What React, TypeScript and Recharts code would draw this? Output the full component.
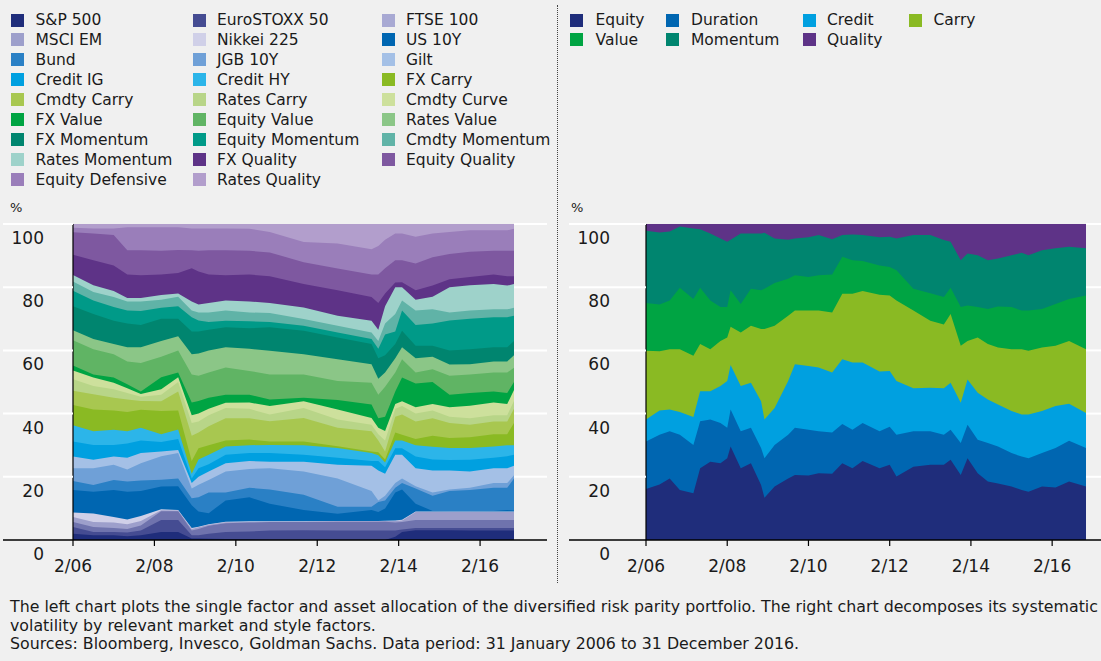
import React from 'react';
import { AreaChart, Area, XAxis, YAxis, Legend } from 'recharts';

// x = months since Feb 2006 (0) ... Dec 2016 (130)
// every series holds the TOP edge (cumulative %) of its band
const LEFT_MONTHS = [0, 6, 12, 16, 20, 26, 31, 35, 37, 40, 45, 52, 58, 68, 78, 88, 90, 92, 95, 97, 101, 106, 111, 117, 124, 128, 130];

const SP500 = [2, 1.5, 1.5, 1.2, 1.5, 2.5, 2.5, 0.5, 0.5, 0.4, 0.3, 0.2, 0, 0, 0, 0, 0, 0, 1, 2.5, 3.1, 3.1, 3.1, 3, 3, 3, 3];
const EUROSTOXX = [4.1, 2.5, 2.5, 2.4, 3, 6.3, 6.3, 1.5, 1.5, 2, 2.5, 2.7, 3, 3.1, 3, 3, 3, 3, 3, 3.3, 3.8, 3.8, 3.8, 3.8, 3.8, 3.8, 3.8];
const FTSE = [5.7, 4.1, 3.8, 3.5, 4.6, 9.1, 9.1, 3, 3.5, 4.5, 5.3, 5.5, 5.7, 5.7, 5.8, 5.8, 5.8, 5.8, 5.5, 5.7, 6.3, 6.3, 6.3, 6.3, 6.3, 6.3, 6.3];
const MSCI_EM = [7.3, 5.7, 5.5, 5, 6, 9.4, 9.3, 3.5, 4, 4.8, 5.6, 5.7, 5.8, 5.8, 5.9, 5.9, 5.9, 6, 6, 6.2, 8.9, 8.9, 8.9, 8.9, 8.9, 8.9, 8.9];
const NIKKEI = [8.7, 8.4, 7.3, 6.5, 7.6, 9.7, 9.5, 3.8, 4.2, 5, 5.8, 5.9, 5.9, 5.9, 6, 6, 6, 6.1, 6.2, 6.4, 9, 9, 9, 9, 9, 9, 9];
const US10Y = [15.8, 15.3, 15.8, 15.3, 15.5, 16.9, 17, 11, 9, 8.5, 12.5, 13.5, 11.5, 9.5, 8.3, 9.5, 8.9, 10, 15, 16, 11.5, 9.2, 9.1, 9.1, 9.2, 9.5, 9.3];
const BUND = [18.7, 17.4, 19, 18.5, 18.8, 19.1, 19.5, 13.2, 13.5, 15, 15, 16.5, 16, 14.3, 10.5, 10.5, 12, 12.5, 16.5, 18, 16.3, 14, 15.5, 15.8, 16.5, 16.5, 19.5];
const JGB = [22.7, 22.7, 23.8, 22.3, 24.3, 26.5, 27.5, 16.3, 17.5, 19, 21.7, 22.5, 22.7, 21.7, 19.5, 15.5, 12.5, 14, 18, 19.5, 17, 15, 16, 16.5, 18, 18, 20.5];
const GILT = [26.4, 25.4, 26.4, 26, 27.5, 28, 28.5, 18, 20, 21.7, 24.3, 25, 24.8, 24.8, 23.8, 23.5, 22, 21, 27, 27, 22.7, 22, 22, 21.7, 22.7, 22.7, 23.5];
const CREDIT_IG = [31.2, 30.1, 30.1, 30.5, 31.5, 31, 32, 19.5, 22.7, 24, 27, 27.5, 27.5, 27, 26, 25, 25, 23, 29, 29, 26.4, 25.5, 25.3, 25.4, 26, 26.5, 27];
const CREDIT_HY = [36.3, 34.4, 34.9, 34.4, 35.5, 33.5, 35, 21, 25.5, 27, 29.6, 30, 30.1, 30, 29.1, 27.5, 26.8, 24.5, 31.5, 31.5, 30, 29.5, 29.1, 29.1, 29.6, 30, 30];
const FX_CARRY = [42.7, 41.3, 41, 40.5, 41.2, 40.8, 41, 25, 29, 30, 31.5, 31.8, 31.2, 31.2, 29.7, 28, 27.8, 25.5, 34, 33.3, 32, 33, 32.3, 32.5, 33.5, 33.5, 37];
const CMDTY_CARRY = [47.2, 46.1, 45, 44.5, 44, 43.9, 47, 33, 34, 36, 38.5, 38.5, 37.6, 38.6, 35.5, 34.4, 31.5, 28, 39, 39.7, 37.5, 38.5, 37, 36.5, 37.5, 37.5, 41.5];
const RATES_CARRY = [50.9, 48.7, 47.7, 46.5, 45.3, 46, 50, 37, 37.5, 39.5, 41.8, 41.5, 39.7, 41.8, 38.1, 36.5, 33.5, 31.5, 41.5, 42.4, 40, 41, 39, 38.5, 39.5, 39.5, 44];
const CMDTY_CURVE = [53.6, 51.4, 49.8, 48, 46.2, 47.7, 51.5, 39.5, 40, 41.5, 43.4, 43.5, 42.4, 43.9, 41.3, 38.6, 35.5, 34.5, 43, 43.9, 42, 43, 42, 42.5, 43.5, 43, 47.5];
const FX_VALUE = [55.2, 52.4, 51.4, 49.3, 47, 51.5, 53, 43.5, 44, 45, 46, 46, 44.5, 45, 44.3, 42.9, 38.5, 39, 47, 51.4, 49.5, 50, 46, 46.5, 47, 46.5, 50];
const EQUITY_VALUE = [63.2, 60.4, 58.8, 56.5, 56, 58, 60, 52.4, 52, 53, 54.6, 53.5, 52.4, 52.4, 50.3, 49.8, 46, 48.5, 53, 57.2, 53, 54, 52, 52.4, 53, 53, 54.5];
const RATES_VALUE = [66.4, 63.6, 62, 61, 61, 63, 64.5, 58.8, 59, 60, 61, 60.5, 59.9, 58.8, 57.2, 55.6, 51, 53, 57.5, 61, 57.5, 58, 55.5, 55.6, 56.5, 56.5, 58.5];
const FX_MOMENTUM = [74, 71.5, 69.4, 68.5, 68, 70, 70, 66, 66, 66.5, 67.3, 67, 67.3, 66.2, 64.1, 62, 57.5, 58.5, 62, 66.2, 61.5, 61.5, 60, 60.4, 61, 61, 63];
const EQUITY_MOMENTUM = [78.9, 75.8, 73.7, 72.6, 72.5, 73.5, 74, 70.5, 69.5, 69, 69.4, 69.2, 69, 67.8, 65.7, 63.6, 60.5, 65, 66, 72.6, 68, 68.5, 69.5, 70, 70.5, 70.5, 71];
const CMDTY_MOMENTUM = [81.8, 78.5, 76.9, 75.5, 75.5, 76, 77, 72.6, 72, 72, 72.6, 72, 71.8, 69.9, 67.8, 65.7, 63, 68.5, 71.5, 75.8, 72.6, 73, 72, 72.6, 73, 73, 73.5];
const RATES_MOMENTUM = [83.9, 80.6, 78.8, 76.6, 76.6, 77.5, 78, 75.5, 74.5, 75, 75.8, 75.5, 75, 73.6, 71, 69.4, 66.5, 74, 80, 80, 76, 77, 80, 80.6, 81, 80.5, 81];
const FX_QUALITY = [90.3, 88.5, 86.9, 84, 83.8, 84, 84.5, 86, 85, 84, 83.8, 84, 83.5, 81, 79, 76.9, 75, 78, 81.5, 81.6, 79, 80.5, 82.5, 83.2, 84, 83.5, 83.5];
const EQUITY_QUALITY = [97.4, 97, 96.5, 91.7, 91.7, 91.5, 91.8, 91.7, 91.5, 91.7, 91.7, 91.5, 91, 87.9, 85.9, 84, 84, 86, 88.5, 88.5, 87.5, 89.5, 90.5, 91.2, 91.5, 91.5, 91.5];
const EQUITY_DEFENSIVE = [98.8, 98.6, 98.6, 99, 99, 99, 99, 98.6, 98.6, 98.6, 98.6, 98.5, 97.5, 94.3, 93.8, 92, 93, 95, 97, 97, 96, 97, 97.5, 98, 98, 98, 98.5];
const RATES_QUALITY = [100, 100, 100, 100, 100, 100, 100, 100, 100, 100, 100, 100, 100, 100, 100, 100, 100, 100, 100, 100, 100, 100, 100, 100, 100, 100, 100];

const RIGHT_MONTHS = [0, 4, 7, 10, 14, 16, 19, 22, 24, 25, 28, 31, 34, 35, 38, 42, 44, 48, 51, 55, 58, 61, 64, 69, 72, 74, 79, 84, 88, 90, 93, 95, 98, 101, 104, 108, 111, 113, 117, 121, 125, 130];
const EQUITY = [16.1, 17.6, 19.5, 15.8, 14.8, 22.7, 24.8, 24.3, 25.9, 29.6, 22.7, 24.3, 17.4, 13.4, 16.9, 19.5, 20.6, 20.4, 21.1, 21, 24.3, 22.7, 25, 22.7, 23.8, 20.1, 23.2, 23.8, 23.8, 25.4, 20.6, 25.9, 21.1, 18.5, 17.9, 16.9, 15.8, 15.3, 16.9, 16.6, 18.5, 16.9];
const DURATION = [31.2, 33.3, 34.4, 33.3, 30.1, 37.6, 38.1, 37, 35.5, 41.3, 34.4, 35.5, 29.1, 25.9, 30.1, 33.3, 35.5, 34.9, 34.4, 34, 36.7, 34.9, 37, 34.4, 35.8, 33.3, 34.4, 34.4, 33.3, 34.9, 30.7, 36.5, 31.7, 30.7, 29.6, 27.5, 26.4, 25.9, 27.5, 29.1, 31.4, 29.1];
const CREDIT = [38.1, 41, 41.3, 40.5, 38.9, 47.1, 47.1, 48.7, 50.3, 55.4, 48.7, 49.8, 43.9, 38.1, 41.8, 50.3, 55.6, 55.1, 54.6, 53, 57.2, 56.2, 56.2, 53.3, 53.5, 50.3, 48, 48.2, 48, 49.8, 43.4, 50.8, 46.6, 44.5, 42.9, 40.8, 39.7, 39.7, 40.8, 42.4, 43.1, 40.2];
const CARRY = [59.9, 59.7, 60.4, 60.4, 58.3, 62, 60.4, 63, 64.1, 67.5, 65.7, 67.8, 66.8, 66.8, 67.8, 71, 72.6, 72.6, 72.6, 72, 77.9, 77.9, 78.8, 77.6, 77.4, 75.8, 72.6, 69.4, 68.2, 71.5, 61.5, 63, 64.1, 62, 60.9, 60.4, 60.4, 59.9, 60.9, 61.5, 63, 60.4];
const VALUE = [75, 74.5, 75.8, 79.8, 76.3, 79.8, 75.8, 73.7, 73.7, 79, 74.7, 79.5, 79, 79.5, 81.3, 82.7, 83.8, 83.2, 83.8, 84, 89.6, 88.5, 88.3, 86.9, 86.4, 85.4, 79.5, 78.1, 76.9, 79.8, 73.7, 74.2, 73.7, 73.1, 73.9, 73.7, 72.6, 72.6, 73.1, 74.7, 76.3, 77.4];
const MOMENTUM = [97.9, 97.3, 97.6, 99.2, 98.6, 98.3, 97, 95.4, 94.4, 95, 97, 97, 97, 97.2, 95.4, 95, 95.4, 95.8, 96.5, 95.2, 96.5, 96.7, 96.5, 95.8, 96, 95.4, 96.5, 96.5, 94.9, 94.4, 88.5, 90.7, 90.1, 88.5, 89.1, 90.1, 90.9, 90.1, 91.7, 92.3, 92.8, 92.3];
const QUALITY = RIGHT_MONTHS.map(() => 100);

const X_TICKS = [0, 24, 48, 72, 96, 120];
const X_LABELS = ['2/06', '2/08', '2/10', '2/12', '2/14', '2/16'];
const Y_TICKS = [0, 20, 40, 60, 80, 100];

type Series = { key: string; name: string; color: string; swatch?: string; values: number[] };

const LEFT_SERIES: Series[] = [
  { key: 'sp', name: 'S&P 500', color: '#1f2d7b', values: SP500 },
  { key: 'euro', name: 'EuroSTOXX 50', color: '#454c92', values: EUROSTOXX },
  { key: 'ftse', name: 'FTSE 100', color: '#6f73ad', swatch: '#a8a9d3', values: FTSE },
  { key: 'msci', name: 'MSCI EM', color: '#9d9fcb', values: MSCI_EM },
  { key: 'nikkei', name: 'Nikkei 225', color: '#d0d0e8', values: NIKKEI },
  { key: 'us10', name: 'US 10Y', color: '#0066b1', values: US10Y },
  { key: 'bund', name: 'Bund', color: '#2a80c5', values: BUND },
  { key: 'jgb', name: 'JGB 10Y', color: '#6fa0d7', values: JGB },
  { key: 'gilt', name: 'Gilt', color: '#a4c0e6', values: GILT },
  { key: 'cig', name: 'Credit IG', color: '#00a0e0', values: CREDIT_IG },
  { key: 'chy', name: 'Credit HY', color: '#2cb5e9', values: CREDIT_HY },
  { key: 'fxc', name: 'FX Carry', color: '#8aba23', values: FX_CARRY },
  { key: 'cmc', name: 'Cmdty Carry', color: '#a8c750', values: CMDTY_CARRY },
  { key: 'rc', name: 'Rates Carry', color: '#b8d588', values: RATES_CARRY },
  { key: 'cc', name: 'Cmdty Curve', color: '#cde09c', values: CMDTY_CURVE },
  { key: 'fxv', name: 'FX Value', color: '#00a443', values: FX_VALUE },
  { key: 'ev', name: 'Equity Value', color: '#60b464', values: EQUITY_VALUE },
  { key: 'rv', name: 'Rates Value', color: '#8bc687', values: RATES_VALUE },
  { key: 'fxm', name: 'FX Momentum', color: '#00856f', values: FX_MOMENTUM },
  { key: 'em', name: 'Equity Momentum', color: '#009a88', values: EQUITY_MOMENTUM },
  { key: 'cm', name: 'Cmdty Momentum', color: '#60b3a7', values: CMDTY_MOMENTUM },
  { key: 'rm', name: 'Rates Momentum', color: '#9ed2ca', values: RATES_MOMENTUM },
  { key: 'fxq', name: 'FX Quality', color: '#5e3387', values: FX_QUALITY },
  { key: 'eq', name: 'Equity Quality', color: '#7e58a0', values: EQUITY_QUALITY },
  { key: 'ed', name: 'Equity Defensive', color: '#9a7eba', values: EQUITY_DEFENSIVE },
  { key: 'rq', name: 'Rates Quality', color: '#b29ecc', values: RATES_QUALITY },
];

const RIGHT_SERIES: Series[] = [
  { key: 'equity', name: 'Equity', color: '#1f2d7b', values: EQUITY },
  { key: 'duration', name: 'Duration', color: '#0066b1', values: DURATION },
  { key: 'credit', name: 'Credit', color: '#00a0e0', values: CREDIT },
  { key: 'carry', name: 'Carry', color: '#8aba23', values: CARRY },
  { key: 'value', name: 'Value', color: '#00a443', values: VALUE },
  { key: 'momentum', name: 'Momentum', color: '#00856f', values: MOMENTUM },
  { key: 'quality', name: 'Quality', color: '#5e3387', values: QUALITY },
];

const buildRows = (months: number[], series: Series[]) =>
  months.map((m, i) => {
    const row: Record<string, number> = { m };
    series.forEach((s) => (row[s.key] = s.values[i]));
    return row;
  });

const TEXT = '#1a1a1a';
const FONT = '"DejaVu Sans", sans-serif';
const BG = '#f0f0f0';
const PLOT_TOP = 224;
const PLOT_BOTTOM = 540;
const CHART_H = 590;

type TickCfg = { from: number; to: number; plotLeft: number; plotRight: number; labelRight: number; pctX: number };

const yTick = (cfg: TickCfg) => (props: any) => {
  const { y, payload } = props;
  const v = payload.value;
  return (
    <g>
      {v === 0 ? (
        <line x1={cfg.from} x2={cfg.to} y1={y} y2={y} stroke="#000" strokeWidth={1.3} />
      ) : (
        <>
          <line x1={cfg.from} x2={cfg.plotLeft} y1={y} y2={y} stroke="#fff" strokeWidth={2} />
          <line x1={cfg.plotRight} x2={cfg.to} y1={y} y2={y} stroke="#fff" strokeWidth={2} />
        </>
      )}
      <text x={cfg.labelRight} y={y + 20} textAnchor="end" fontSize={17} fontFamily={FONT} fill={TEXT}>
        {v}
      </text>
      {v === 100 && (
        <text x={cfg.pctX} y={y - 12} fontSize={13} fontFamily={FONT} fill={TEXT}>
          %
        </text>
      )}
    </g>
  );
};

const xTick = (props: any) => {
  const { x, payload } = props;
  const idx = X_TICKS.indexOf(payload.value);
  return (
    <text x={x} y={PLOT_BOTTOM + 32} textAnchor="middle" fontSize={17} fontFamily={FONT} fill={TEXT}>
      {X_LABELS[idx]}
    </text>
  );
};

type LegendCfg = { cols: number[]; textCols: number[]; perRow: number };

function LegendBlock({ series, cfg }: { series: Series[]; cfg: LegendCfg }) {
  return (
    <div style={{ position: 'relative', width: '100%', height: 200, fontFamily: FONT, fontSize: 15.5, color: TEXT }}>
      {series.map((s, i) => {
        const col = i % cfg.perRow;
        const row = Math.floor(i / cfg.perRow);
        const cy = 20 + row * 19.95;
        return (
          <React.Fragment key={s.key}>
            <div
              style={{
                position: 'absolute',
                left: cfg.cols[col],
                top: cy - 6.5,
                width: 13,
                height: 13,
                background: s.swatch ?? s.color,
              }}
            />
            <div style={{ position: 'absolute', left: cfg.textCols[col], top: cy - 10, lineHeight: '20px', whiteSpace: 'nowrap' }}>
              {s.name}
            </div>
          </React.Fragment>
        );
      })}
    </div>
  );
}

function LayerChart({
  width,
  series,
  months,
  margin,
  tickCfg,
  legendCfg,
}: {
  width: number;
  series: Series[];
  months: number[];
  margin: { left: number; right: number };
  tickCfg: TickCfg;
  legendCfg: LegendCfg;
}) {
  const rows = buildRows(months, series);
  // paint from the top band down so each lower band covers the one above it
  const painted = [...series].reverse();
  return (
    <AreaChart
      width={width}
      height={CHART_H}
      data={rows}
      margin={{ top: PLOT_TOP, bottom: CHART_H - PLOT_BOTTOM - 30, left: margin.left, right: margin.right }}
    >
      <Legend
        layout="horizontal"
        verticalAlign="middle"
        align="center"
        wrapperStyle={{ top: 0, left: 0, width, height: 200 }}
        content={() => <LegendBlock series={series} cfg={legendCfg} />}
      />
      {painted.map((s) => (
        <Area
          key={s.key}
          dataKey={s.key}
          name={s.name}
          type="linear"
          stroke="none"
          fill={s.color}
          fillOpacity={1}
          dot={false}
          activeDot={false}
          isAnimationActive={false}
        />
      ))}
      <XAxis
        dataKey="m"
        type="number"
        domain={[0, 130]}
        ticks={X_TICKS}
        axisLine={false}
        tickLine={{ stroke: '#000', strokeWidth: 1.2 }}
        tickSize={6}
        height={30}
        tick={xTick}
        interval={0}
      />
      <YAxis
        type="number"
        domain={[0, 100]}
        ticks={Y_TICKS}
        width={60}
        axisLine={{ stroke: '#000', strokeWidth: 1.2 }}
        tickLine={false}
        tick={yTick(tickCfg)}
        interval={0}
      />
    </AreaChart>
  );
}

export default function App() {
  return (
    <div
      style={{
        position: 'absolute',
        left: 0,
        top: 0,
        width: 1101,
        height: 661,
        background: BG,
        overflow: 'hidden',
        fontFamily: FONT,
        color: TEXT,
      }}
    >
      <div style={{ position: 'absolute', left: 0, top: 0 }}>
        <LayerChart
          width={558}
          series={LEFT_SERIES}
          months={LEFT_MONTHS}
          margin={{ left: 13, right: 44 }}
          tickCfg={{ from: 3, to: 547, plotLeft: 73, plotRight: 514, labelRight: 44, pctX: 10 }}
          legendCfg={{ cols: [11, 192.5, 381.5], textCols: [35.5, 217, 406], perRow: 3 }}
        />
      </div>
      <div style={{ position: 'absolute', left: 558, top: 0 }}>
        <LayerChart
          width={543}
          series={RIGHT_SERIES}
          months={RIGHT_MONTHS}
          margin={{ left: 28, right: 15 }}
          tickCfg={{ from: 11, to: 543, plotLeft: 88, plotRight: 528, labelRight: 52, pctX: 13 }}
          legendCfg={{ cols: [12, 108, 245, 351], textCols: [37.5, 133, 269, 375.5], perRow: 4 }}
        />
      </div>
      <div
        style={{
          position: 'absolute',
          left: 557,
          top: 5,
          height: 578,
          borderLeft: '1.5px dotted #444',
        }}
      />
      <div
        style={{
          position: 'absolute',
          left: 10,
          top: 598,
          fontSize: 15.8,
          lineHeight: '18.7px',
          whiteSpace: 'nowrap',
        }}
      >
        <div>
          The left chart plots the single factor and asset allocation of the diversified risk parity portfolio. The right chart decomposes its systematic
        </div>
        <div>volatility by relevant market and style factors.</div>
        <div>Sources: Bloomberg, Invesco, Goldman Sachs. Data period: 31 January 2006 to 31 December 2016.</div>
      </div>
    </div>
  );
}
